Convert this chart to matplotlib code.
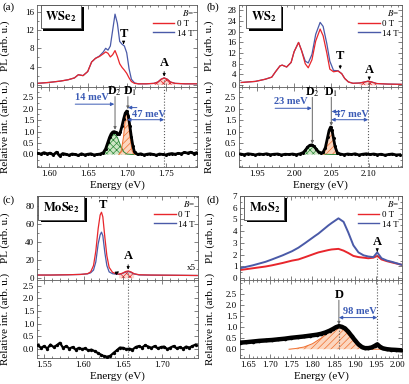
import numpy as np
import matplotlib
matplotlib.use('Agg')
import matplotlib.pyplot as plt
import matplotlib.patheffects as pe
from matplotlib.ticker import MultipleLocator, FixedLocator

plt.rcParams['font.family'] = 'Liberation Serif'
plt.rcParams['mathtext.fontset'] = 'stix'
plt.rcParams['hatch.linewidth'] = 0.5

RED = '#e8262c'
BLUE = '#4a5aa8'
ABLUE = '#3b5bb5'
GREEN = '#2e8b3a'
ORANGE = '#f07030'

# ---- (a) WSe2 ----
E_a = [1.585, 1.600, 1.615, 1.625, 1.633, 1.638, 1.644, 1.650, 1.655, 1.660, 1.665, 1.670,
       1.673, 1.676, 1.679, 1.682, 1.685, 1.688, 1.691, 1.694, 1.697, 1.700, 1.703, 1.706,
       1.710, 1.715, 1.725, 1.735, 1.740, 1.744, 1.748, 1.752, 1.756, 1.762, 1.775, 1.790]
red_a = [0.3, 0.5, 0.8, 1.1, 1.5, 2.2, 2.0, 2.9, 5.0, 5.8, 6.2, 6.8, 7.2, 6.9, 6.1, 6.6, 7.5, 6.2,
         4.6, 3.8, 3.2, 2.5, 1.5, 0.7, 0.3, 0.2, 0.2, 0.3, 0.6, 1.2, 1.5, 1.2, 0.6, 0.3, 0.2, 0.2]
blue_a = [0.3, 0.5, 0.8, 1.1, 1.5, 2.2, 2.0, 2.9, 5.0, 5.8, 6.3, 7.2, 8.0, 7.6, 8.5, 12.0, 15.5, 13.5,
          9.5, 8.9, 8.5, 7.0, 3.5, 1.2, 0.4, 0.2, 0.2, 0.3, 0.6, 1.2, 1.5, 1.2, 0.6, 0.3, 0.2, 0.2]
E_ab = [1.586, 1.590, 1.594, 1.598, 1.602, 1.606, 1.610, 1.614, 1.618, 1.622, 1.626, 1.630,
        1.634, 1.638, 1.642, 1.646, 1.650, 1.654, 1.658, 1.662, 1.666, 1.670, 1.673, 1.676,
        1.678, 1.680, 1.682, 1.684, 1.686, 1.688, 1.690, 1.692, 1.694, 1.696, 1.698, 1.700,
        1.702, 1.704, 1.706, 1.708, 1.710, 1.714, 1.718, 1.722, 1.726, 1.730, 1.734, 1.738,
        1.742, 1.746, 1.750, 1.754, 1.758, 1.762, 1.766, 1.770, 1.774, 1.778, 1.782, 1.786, 1.790]
rel_a = [0.05, 0.02, 0.08, 0.03, 0.06, -0.02, 0.10, -0.06, 0.04, 0.01, -0.03, 0.02, 0.00, -0.04,
         0.03, -0.02, 0.01, 0.03, -0.02, 0.00, 0.02, 0.08, 0.25, 0.55,
         0.75, 0.90, 0.98, 1.00, 0.97, 0.90, 0.88, 1.00, 1.25, 1.55, 1.80, 1.90, 1.70, 1.25,
         0.75, 0.35, 0.10,
         0.00, 0.03, -0.02, 0.01, 0.03, 0.00, -0.03, 0.02, 0.00, -0.02, 0.02, 0.04, 0.01, 0.05,
         0.03, 0.09, 0.06, 0.10, 0.04, 0.08]
Eg_a = [1.664, 1.668, 1.672, 1.676, 1.680, 1.684, 1.688, 1.692, 1.696, 1.700, 1.706, 1.712]
fitg_a = [0, 0.02, 0.1, 0.4, 0.75, 0.9, 0.75, 0.4, 0.12, 0.02, 0, 0]
Eo_a = [1.690, 1.693, 1.696, 1.698, 1.700, 1.702, 1.704, 1.707, 1.710]
fito_a = [0, 0.15, 0.8, 1.5, 1.85, 1.5, 0.8, 0.15, 0]

# ---- (b) WS2 ----
E_b = [1.929, 1.948, 1.961, 1.970, 1.975, 1.981, 1.984, 1.990, 1.996, 2.000, 2.006, 2.010,
       2.015, 2.019, 2.024, 2.029, 2.035, 2.039, 2.044, 2.048, 2.053, 2.059, 2.064, 2.068,
       2.073, 2.079, 2.088, 2.095, 2.0995, 2.104, 2.111, 2.126, 2.144]
red_b = [1.0, 1.4, 2.2, 3.0, 5.0, 7.2, 7.5, 6.8, 8.5, 12.5, 16.0, 13.0, 8.0, 6.5, 9.5, 16.5, 21.0,
         18.5, 12.0, 6.0, 5.0, 5.3, 4.3, 2.5, 1.2, 0.7, 0.8, 1.2, 1.5, 1.2, 0.6, 0.4, 0.3]
blue_b = [1.0, 1.4, 2.2, 3.0, 5.0, 7.2, 7.5, 6.8, 8.5, 12.5, 16.0, 13.0, 9.0, 8.3, 11.5, 19.0, 23.5,
          22.0, 15.5, 9.0, 5.5, 5.4, 4.3, 2.5, 1.2, 0.7, 0.8, 1.2, 1.5, 1.2, 0.6, 0.4, 0.3]
E_bb = [1.928, 1.933, 1.938, 1.943, 1.948, 1.953, 1.958, 1.963, 1.968, 1.973, 1.978, 1.983,
        1.988, 1.993, 1.998, 2.003, 2.008, 2.012, 2.015, 2.018, 2.021, 2.024, 2.027, 2.030,
        2.033, 2.036, 2.039, 2.042, 2.045, 2.047, 2.049, 2.051, 2.053, 2.055, 2.058, 2.062,
        2.067, 2.072, 2.077, 2.082, 2.087, 2.092, 2.097, 2.102, 2.107, 2.112, 2.117, 2.122,
        2.127, 2.132, 2.137, 2.142]
rel_b = [0.02, -0.01, 0.03, 0.01, -0.02, 0.02, 0.00, 0.03, -0.01, 0.01, 0.02, -0.02, 0.01, 0.00,
         0.02, -0.01, 0.03,
         0.08, 0.18, 0.32, 0.40, 0.42, 0.35, 0.22, 0.10, 0.06, 0.10, 0.30, 0.75,
         1.05, 1.20, 1.05, 0.70, 0.35, 0.08, 0.02,
         -0.01, 0.02, 0.00, 0.03, -0.02, 0.01, 0.03, 0.00, 0.02, -0.01, 0.01, -0.03, 0.00,
         0.02, -0.02, -0.01]
Eg_b = [2.004, 2.008, 2.013, 2.018, 2.022, 2.025, 2.028, 2.032, 2.037, 2.042, 2.050, 2.060]
fitg_b = [0, 0.02, 0.08, 0.25, 0.38, 0.40, 0.36, 0.2, 0.06, 0.01, 0, 0]
Eo_b = [2.040, 2.043, 2.045, 2.047, 2.0495, 2.052, 2.054, 2.056, 2.059]
fito_b = [0, 0.3, 0.7, 1.05, 1.18, 1.0, 0.6, 0.25, 0]

# ---- (c) MoSe2 ----
E_c = [1.541, 1.558, 1.580, 1.5965, 1.605, 1.609, 1.6126, 1.6155, 1.6185, 1.621, 1.6227, 1.6244,
       1.627, 1.6295, 1.6324, 1.6367, 1.641, 1.645, 1.649, 1.6536, 1.6565, 1.660, 1.664, 1.6705,
       1.685, 1.715, 1.744]
red_c = [3.5, 3.5, 3.8, 4.2, 5.0, 7.0, 14, 30, 55, 70, 73, 68, 45, 25, 12, 6.5, 5.0, 4.5, 5.5,
         7.5, 8.0, 7.0, 5.0, 3.8, 3.5, 3.3, 3.0]
blue_c = [3.5, 3.5, 3.8, 4.2, 4.8, 6.0, 9.0, 18, 38, 48, 51, 47, 28, 14, 7.0, 5.0, 4.5, 4.3, 5.2,
          7.0, 7.5, 6.5, 4.7, 3.6, 3.4, 3.2, 3.0]
E_cb = [1.542, 1.546, 1.550, 1.554, 1.558, 1.562, 1.566, 1.570, 1.574, 1.578, 1.582, 1.586,
        1.590, 1.594, 1.598, 1.602, 1.606, 1.610, 1.614, 1.618, 1.622, 1.626, 1.630, 1.634,
        1.638, 1.642, 1.646, 1.650, 1.654, 1.658, 1.662, 1.666, 1.670, 1.674, 1.678, 1.682,
        1.686, 1.690, 1.694, 1.698, 1.702, 1.706, 1.710, 1.714, 1.718, 1.722, 1.726, 1.730,
        1.734, 1.738, 1.742]
rel_c = [0.15, 0.05, 0.12, 0.02, 0.18, 0.08, 0.15, 0.25, 0.05, 0.12, 0.02, 0.08, -0.02, 0.05,
         0.00, 0.03, -0.05, -0.02, -0.08, -0.15, -0.22, -0.28, -0.30, -0.26, -0.15, -0.05, 0.06,
         0.05, 0.00, 0.02, -0.02, 0.08, 0.12, 0.06, 0.15, 0.10, 0.05, 0.12, 0.03, 0.08, 0.10,
         0.00, 0.06, 0.12, 0.03, 0.08, 0.02, 0.10, 0.06, 0.12, 0.18]

# ---- (d) MoS2 ----
E_d = [1.630, 1.660, 1.690, 1.705, 1.730, 1.752, 1.767, 1.783, 1.806, 1.814, 1.8375, 1.845,
       1.861, 1.873, 1.884, 1.896, 1.908, 1.920, 1.931, 1.943, 1.952, 1.962, 1.975, 1.986, 2.009]
red_d = [0.7, 0.85, 1.0, 1.1, 1.3, 1.5, 1.6, 1.8, 2.1, 2.2, 2.4, 2.45, 2.5, 2.35, 2.15, 1.9, 1.8,
         1.75, 1.7, 1.75, 1.9, 1.6, 1.45, 1.35, 1.15]
blue_d = [0.85, 1.1, 1.4, 1.6, 1.95, 2.3, 2.6, 3.0, 3.6, 3.8, 4.5, 4.7, 5.1, 4.8, 3.9, 2.8, 2.2,
          1.95, 1.85, 1.8, 2.2, 1.7, 1.5, 1.4, 1.15]
E_db = [1.630, 1.645, 1.660, 1.675, 1.690, 1.705, 1.720, 1.735, 1.750, 1.765, 1.780, 1.795,
        1.810, 1.820, 1.830, 1.840, 1.848, 1.855, 1.862, 1.869, 1.876, 1.884, 1.892, 1.900,
        1.908, 1.916, 1.923, 1.931, 1.939, 1.946, 1.952, 1.958, 1.965, 1.975, 1.985, 1.995, 2.009]
rel_d = [0.30, 0.32, 0.35, 0.38, 0.40, 0.42, 0.45, 0.48, 0.52, 0.55, 0.58, 0.62, 0.66, 0.70,
         0.76, 0.84, 0.92, 1.00, 1.05, 1.02, 0.95, 0.80, 0.60, 0.40, 0.22, 0.10, 0.05, 0.05,
         0.08, 0.15, 0.22, 0.12, 0.04, 0.00, -0.02, -0.03, -0.05]
Eo_d = [1.745, 1.760, 1.780, 1.800, 1.820, 1.835, 1.850, 1.862, 1.872, 1.882, 1.892, 1.902,
        1.912, 1.922, 1.930, 1.962]
fito_d = [0.0, 0.03, 0.1, 0.25, 0.5, 0.72, 0.92, 1.0, 0.92, 0.72, 0.48, 0.25, 0.1, 0.02, 0.0, 0.0]

fig = plt.figure(figsize=(4.09, 3.84), dpi=100)


def style(ax, xmaj, xmin, ymaj, ymin, yticks=None):
    ax.xaxis.set_major_locator(MultipleLocator(xmaj))
    ax.xaxis.set_minor_locator(MultipleLocator(xmin))
    if yticks is not None:
        ax.yaxis.set_major_locator(FixedLocator(yticks))
    else:
        ax.yaxis.set_major_locator(MultipleLocator(ymaj))
    ax.yaxis.set_minor_locator(MultipleLocator(ymin))
    ax.tick_params(which='both', direction='in', top=True, right=True, labelsize=6.5,
                   width=0.5, color='0.3', pad=2)
    ax.tick_params(which='major', length=3)
    ax.tick_params(which='minor', length=1.5)
    for s in ax.spines.values():
        s.set_linewidth(0.6)
        s.set_color('0.35')


def make_pair(left, width, top_b, top_h, bot_b, bot_h):
    at = fig.add_axes([left, top_b, width, top_h])
    ab = fig.add_axes([left, bot_b, width, bot_h], sharex=at)
    at.tick_params(labelbottom=False)
    return at, ab


def sample_box(ax, text):
    t = ax.text(0.15, 0.86, text, transform=ax.transAxes, ha='center', va='center', fontsize=9,
                bbox=dict(boxstyle='square,pad=0.35', fc='white', ec='0.3', lw=0.6), zorder=6)
    t.get_bbox_patch().set_path_effects([
        pe.SimplePatchShadow(offset=(1.8, -1.8), shadow_rgbFace='black', alpha=1.0),
        pe.Normal()])


def legend(ax):
    h1, = ax.plot([], [], color=RED, lw=1, label='0 T')
    h2, = ax.plot([], [], color=BLUE, lw=1, label='14 T')
    leg = ax.legend(handles=[h1, h2], title=r'$B$=', loc='upper right', frameon=False,
                    fontsize=6.5, title_fontsize=6.5, alignment='right', handlelength=2.4,
                    borderaxespad=0.15, labelspacing=0.15, handletextpad=0.3, borderpad=0.2)
    return leg


def peak_label(ax, name, x, y_text, y_tip, fs=9):
    ax.annotate(name, xy=(x, y_tip), xytext=(x, y_text), ha='center', va='bottom',
                fontsize=fs, fontweight='bold',
                arrowprops=dict(arrowstyle='-|>', color='black', lw=0.6, mutation_scale=4,
                                shrinkA=0, shrinkB=0))


def d_label(ax, name, x, y_text, y_tip, dx=0.0, fs=9):
    ax.text(x + dx, y_text, name, ha='center', va='center', fontsize=fs, fontweight='bold')
    ax.annotate('', xy=(x, y_tip), xytext=(x, y_text - 0.22),
                arrowprops=dict(arrowstyle='-|>', color='0.4', lw=0.7, mutation_scale=4,
                                shrinkA=0, shrinkB=0))


def harrow(ax, x1, x2, y, style='-|>'):
    ax.annotate('', xy=(x2, y), xytext=(x1, y),
                arrowprops=dict(arrowstyle=style, color=ABLUE, lw=0.7, mutation_scale=5,
                                shrinkA=0, shrinkB=0))


def hatch_under(ax, x, y, lo, hi, base=0.0):
    x = np.asarray(x)
    y = np.asarray(y)
    m = (x >= lo) & (x <= hi)
    ax.fill_between(x[m], base, y[m], facecolor='#fbd7cf', edgecolor=RED, hatch='xxxxx',
                    linewidth=0, zorder=1)


def fit_fill(ax, x, y, color, face, hatch):
    ax.fill_between(x, 0, y, facecolor=face, edgecolor=color, hatch=hatch, linewidth=0, zorder=1)
    ax.plot(x, y, color=color, lw=0.7, zorder=2)


def points(ax, x, y, lw=2.0, ms=2.2):
    ax.plot(x, y, color='black', lw=lw, marker='o', ms=ms, mew=0, zorder=3)


# ================= (a) =================
at, ab = make_pair(0.0905, 0.391, 0.7734, 0.2135, 0.565, 0.2084)
A_a = 1.748
hatch_under(at, E_a, red_a, 1.735, 1.762)
at.plot(E_a, blue_a, color=BLUE, lw=0.9)
at.plot(E_a, red_a, color=RED, lw=0.9)
at.plot([A_a, A_a], [-0.5, 1.5], ':', color='0.35', lw=0.8)
at.set_xlim(1.585, 1.790)
at.set_ylim(-0.5, 17.5)
style(at, 0.05, 0.01, 4, 2)
at.set_ylabel('PL (arb. u.)', fontsize=8)
at.yaxis.set_label_coords(-0.17, 0.5)
sample_box(at, r'$\mathbf{WSe_2}$')
legend(at)
peak_label(at, 'T', 1.696, 9.8, 8.9)
peak_label(at, 'A', A_a, 3.5, 1.8)

fit_fill(ab, Eg_a, fitg_a, GREEN, '#cfe6c6', 'xxxxx')
fit_fill(ab, Eo_a, fito_a, ORANGE, '#fcd6bf', '/////')
points(ab, E_ab, rel_a)
ab.axvline(A_a, ls=':', color='0.35', lw=0.8)
ab.set_ylim(-0.55, 2.95)
style(ab, 0.05, 0.01, 0.5, 0.25, yticks=[0, 0.5, 1.0, 1.5, 2.0, 2.5])
ab.set_ylabel('Relative int. (arb. u.)', fontsize=8)
ab.yaxis.set_label_coords(-0.17, 0.5)
ab.set_xlabel('Energy (eV)', fontsize=8, labelpad=2)
ab.yaxis.set_major_formatter(plt.FormatStrFormatter('%.1f'))
ab.xaxis.set_major_formatter(plt.FormatStrFormatter('%.2f'))
d_label(ab, r'D$_2$', 1.685, 2.75, 1.08, dx=-0.0015, fs=8.5)
d_label(ab, r'D$_1$', 1.7015, 2.75, 1.98, dx=0.0025, fs=8.5)
ab.text(1.655, 2.47, '14 meV', color=ABLUE, fontsize=7.5, fontweight='bold', ha='center', va='center')
harrow(ab, 1.634, 1.684, 2.2)
harrow(ab, 1.713, 1.7015, 2.05)
ab.text(1.729, 1.76, '47 meV', color=ABLUE, fontsize=7.5, fontweight='bold', ha='center', va='center')
harrow(ab, 1.7005, A_a, 1.52, style='<|-|>')

# ================= (b) =================
bt, bb = make_pair(0.5844, 0.3985, 0.7734, 0.2135, 0.565, 0.2084)
A_b = 2.0995
hatch_under(bt, E_b, red_b, 2.085, 2.115)
bt.plot(E_b, blue_b, color=BLUE, lw=0.9)
bt.plot(E_b, red_b, color=RED, lw=0.9)
bt.plot([A_b, A_b], [-0.7, 1.5], ':', color='0.35', lw=0.8)
bt.set_xlim(1.926, 2.145)
bt.set_ylim(-0.7, 30)
style(bt, 0.05, 0.01, 4, 2)
bt.set_ylabel('PL (arb. u.)', fontsize=8)
bt.yaxis.set_label_coords(-0.155, 0.5)
sample_box(bt, r'$\mathbf{WS_2}$')
legend(bt)
peak_label(bt, 'T', 2.062, 8.5, 6.0)
peak_label(bt, 'A', 2.101, 3.6, 1.9)

fit_fill(bb, Eg_b, fitg_b, GREEN, '#cfe6c6', 'xxxxx')
fit_fill(bb, Eo_b, fito_b, ORANGE, '#fcd6bf', '/////')
points(bb, E_bb, rel_b)
bb.axvline(A_b, ls=':', color='0.35', lw=0.8)
bb.set_ylim(-0.55, 2.95)
style(bb, 0.05, 0.01, 0.5, 0.25, yticks=[0, 0.5, 1.0, 1.5, 2.0, 2.5])
bb.set_ylabel('Relative int. (arb. u.)', fontsize=8)
bb.yaxis.set_label_coords(-0.155, 0.5)
bb.set_xlabel('Energy (eV)', fontsize=8, labelpad=2)
bb.yaxis.set_major_formatter(plt.FormatStrFormatter('%.1f'))
bb.xaxis.set_major_formatter(plt.FormatStrFormatter('%.2f'))
d_label(bb, r'D$_2$', 2.0245, 2.72, 0.47, fs=8.5)
d_label(bb, r'D$_1$', 2.050, 2.72, 1.25, fs=8.5)
bb.text(1.9955, 2.3, '23 meV', color=ABLUE, fontsize=7.5, fontweight='bold', ha='center', va='center')
harrow(bb, 1.9745, 2.0237, 2.02)
harrow(bb, 2.0616, 2.0505, 1.88)
bb.text(2.078, 1.76, '47 meV', color=ABLUE, fontsize=7.5, fontweight='bold', ha='center', va='center')
harrow(bb, 2.050, A_b, 1.52, style='<|-|>')

# ================= (c) =================
ct, cb = make_pair(0.0905, 0.3936, 0.2708, 0.2188, 0.0677, 0.2031)
A_c = 1.6565
hatch_under(ct, E_c, red_c, 1.645, 1.668)
ct.plot(E_c, blue_c, color=BLUE, lw=0.9)
ct.plot(E_c, red_c, color=RED, lw=0.9)
ct.plot([A_c, A_c], [-2, 8], ':', color='0.35', lw=0.8)
ct.set_xlim(1.541, 1.745)
ct.set_ylim(-2, 91)
style(ct, 0.05, 0.01, 20, 10)
ct.set_ylabel('PL (arb. u.)', fontsize=8)
ct.yaxis.set_label_coords(-0.17, 0.5)
sample_box(ct, r'$\mathbf{MoSe_2}$')
legend(ct)
ct.text(1.624, 74, 'T', ha='center', va='bottom', fontsize=9, fontweight='bold')
peak_label(ct, 'A', A_c, 18, 9.5)
ct.text(1.737, 11, 'x5', fontsize=6.5, ha='center', va='center')
ct.annotate('', xy=(1.645, 7.5), xytext=(1.640, 5.0),
            arrowprops=dict(arrowstyle='-|>', color='black', lw=0.6, mutation_scale=5,
                            shrinkA=0, shrinkB=0))

points(cb, E_cb, rel_c, lw=1.6, ms=2.4)
cb.axvline(A_c, ls=':', color='0.35', lw=0.8)
cb.set_ylim(-0.35, 2.72)
style(cb, 0.05, 0.01, 0.5, 0.25, yticks=[0, 0.5, 1.0, 1.5, 2.0, 2.5])
cb.set_ylabel('Relative int. (arb. u.)', fontsize=8)
cb.yaxis.set_label_coords(-0.17, 0.5)
cb.set_xlabel('Energy (eV)', fontsize=8, labelpad=2)
cb.yaxis.set_major_formatter(plt.FormatStrFormatter('%.1f'))
cb.xaxis.set_major_formatter(plt.FormatStrFormatter('%.2f'))

# ================= (d) =================
dt, db = make_pair(0.5868, 0.396, 0.2708, 0.2188, 0.0677, 0.2031)
A_d = 1.952
D_d = 1.862
dt.plot(E_d, red_d, color=RED, lw=1.4)
dt.plot(E_d, blue_d, color=BLUE, lw=1.4)
dt.plot([A_d, A_d], [-0.15, 2.0], ':', color='0.35', lw=0.8)
dt.set_xlim(1.630, 2.010)
dt.set_ylim(-0.15, 7)
style(dt, 0.05, 0.01, 1, 0.5)
dt.set_ylabel('PL (arb. u.)', fontsize=8)
dt.yaxis.set_label_coords(-0.155, 0.5)
sample_box(dt, r'$\mathbf{MoS_2}$')
legend(dt)
peak_label(dt, 'A', A_d, 2.6, 2.25)

db.fill_between(Eo_d, 0, fito_d, facecolor='#fcd6bf', edgecolor=ORANGE, hatch='/////',
                linewidth=0, zorder=1)
db.plot(Eo_d, fito_d, color=ORANGE, lw=0.7, zorder=2)
points(db, E_db, rel_d, lw=3.2, ms=2.6)
db.plot([D_d, D_d], [0, 1.0], ':', color='0.35', lw=0.8, zorder=4)
db.plot([A_d, A_d], [0.3, 3.2], ':', color='0.35', lw=0.8)
db.set_ylim(-0.4, 3.15)
style(db, 0.05, 0.01, 0.5, 0.25, yticks=[0, 0.5, 1.0, 1.5, 2.0, 2.5])
db.set_ylabel('Relative int. (arb. u.)', fontsize=8)
db.yaxis.set_label_coords(-0.155, 0.5)
db.set_xlabel('Energy (eV)', fontsize=8, labelpad=2)
db.yaxis.set_major_formatter(plt.FormatStrFormatter('%.1f'))
db.xaxis.set_major_formatter(plt.FormatStrFormatter('%.2f'))
d_label(db, 'D', D_d, 2.45, 1.12)
db.text(1.912, 1.72, '98 meV', color=ABLUE, fontsize=7.5, fontweight='bold', ha='center', va='center')
harrow(db, D_d, A_d, 1.44, style='<|-|>')

# panel letters
for lab, x, y in [('(a)', 0.005, 0.995), ('(b)', 0.505, 0.995),
                  ('(c)', 0.005, 0.49), ('(d)', 0.505, 0.49)]:
    fig.text(x, y, lab, fontsize=8, va='top', ha='left')

fig.savefig('out.png', dpi=100)
